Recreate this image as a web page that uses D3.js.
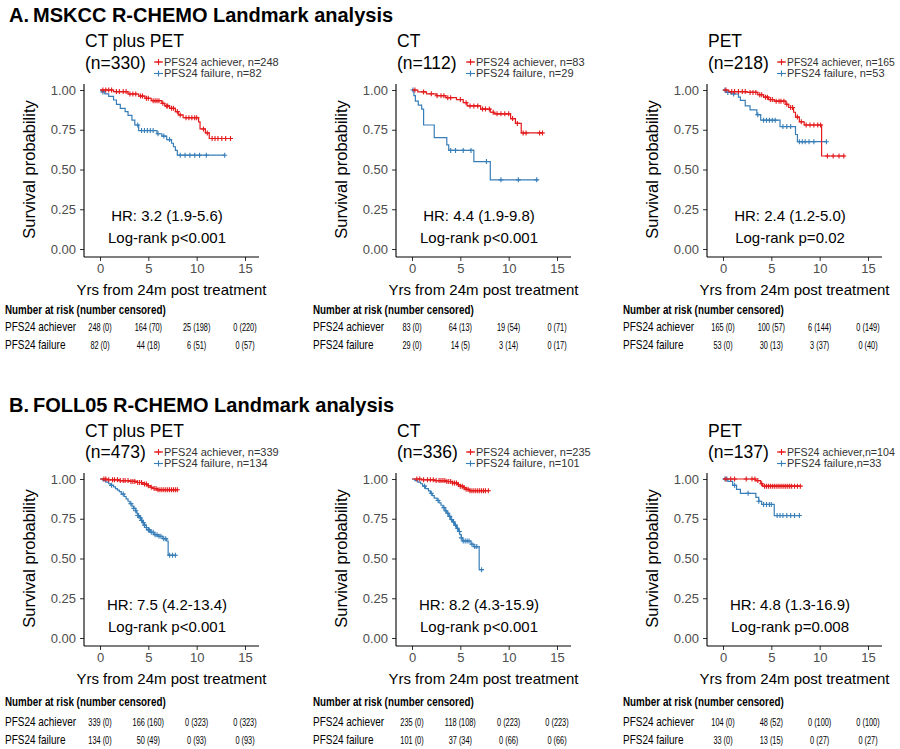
<!DOCTYPE html>
<html><head><meta charset="utf-8">
<script src="https://cdn.jsdelivr.net/npm/d3@7"></script>
<style>body{margin:0;background:#fff;} svg{display:block;font-family:"Liberation Sans",Arial,sans-serif;}</style>
</head><body><svg id="c" width="900" height="749"></svg>
<script>
// ---------------- DATA ----------------
const sectionTitles = ["A.\u2009MSKCC R-CHEMO Landmark analysis", "B.\u2009FOLL05 R-CHEMO Landmark analysis"];
const panelTitles = ["CT plus PET", "CT", "PET", "CT plus PET", "CT", "PET"];
const panelN = ["(n=330)", "(n=112)", "(n=218)", "(n=473)", "(n=336)", "(n=137)"];
const legendAchiever = ["PFS24 achiever, n=248", "PFS24 achiever, n=83", "PFS24 achiever, n=165", "PFS24 achiever, n=339", "PFS24 achiever, n=235", "PFS24 achiever,n=104"];
const legendFailure = ["PFS24 failure, n=82", "PFS24 failure, n=29", "PFS24 failure, n=53", "PFS24 failure, n=134", "PFS24 failure, n=101", "PFS24 failure,n=33"];
const hrText = ["HR: 3.2 (1.9-5.6)", "HR: 4.4 (1.9-9.8)", "HR: 2.4 (1.2-5.0)", "HR: 7.5 (4.2-13.4)", "HR: 8.2 (4.3-15.9)", "HR: 4.8 (1.3-16.9)"];
const pText = ["Log-rank p<0.001", "Log-rank p<0.001", "Log-rank p=0.02", "Log-rank p<0.001", "Log-rank p<0.001", "Log-rank p=0.008"];
const xTicks = [0, 5, 10, 15];
const yTicks = [0, 0.25, 0.5, 0.75, 1];
const xTitle = "Yrs from 24m post treatment";
const yTitle = "Survival probability";
const riskHeader = "Number at risk (number censored)";
const riskRowLabels = ["PFS24 achiever", "PFS24 failure"];
const riskAchiever = [
  ["248 (0)", "164 (70)", "25 (198)", "0 (220)"],
  ["83 (0)", "64 (13)", "19 (54)", "0 (71)"],
  ["165 (0)", "100 (57)", "6 (144)", "0 (149)"],
  ["339 (0)", "166 (160)", "0 (323)", "0 (323)"],
  ["235 (0)", "118 (108)", "0 (223)", "0 (223)"],
  ["104 (0)", "48 (52)", "0 (100)", "0 (100)"]
];
const riskFailure = [
  ["82 (0)", "44 (18)", "6 (51)", "0 (57)"],
  ["29 (0)", "14 (5)", "3 (14)", "0 (17)"],
  ["53 (0)", "30 (13)", "3 (37)", "0 (40)"],
  ["134 (0)", "50 (49)", "0 (93)", "0 (93)"],
  ["101 (0)", "37 (34)", "0 (66)", "0 (66)"],
  ["33 (0)", "13 (15)", "0 (27)", "0 (27)"]
];

// Kaplan-Meier steps [time, survival]; censor times
const mskCtPetAch = [[0,1],[1.4,0.99],[2.9,0.975],[4.0,0.962],[4.65,0.948],[5.3,0.933],[6.4,0.916],[6.7,0.90],[7.2,0.885],[7.8,0.864],[8.1,0.843],[8.6,0.826],[10.2,0.80],[10.35,0.755],[10.9,0.73],[11.3,0.695],[13.6,0.695]];
const mskCtPetAchCens = [0.3,0.6,0.9,1.2,1.7,2.0,2.4,2.7,3.1,3.4,3.7,4.2,4.4,4.8,5.0,5.5,5.7,5.9,6.1,6.5,6.9,7.0,7.4,7.6,8.0,8.3,8.9,9.2,9.5,9.8,10.0,10.7,11.1,11.6,11.9,12.2,12.6,13.0,13.5];
const mskCtPetFail = [[0,1],[0.2,0.988],[0.5,0.976],[0.9,0.96],[1.4,0.937],[1.7,0.91],[2.1,0.885],[2.6,0.864],[2.9,0.84],[3.3,0.81],[3.6,0.78],[4.0,0.745],[5.9,0.725],[6.4,0.71],[6.9,0.688],[7.4,0.665],[7.6,0.643],[7.8,0.62],[8.0,0.59],[12.9,0.59]];
const mskCtPetFailCens = [0.3,3.9,4.3,4.6,4.9,5.2,5.5,6.0,6.6,7.2,8.3,8.8,9.3,9.8,10.3,11.0,12.9];

const mskCtAch = [[0,1],[0.6,0.988],[1.5,0.976],[2.5,0.964],[3.5,0.952],[4.6,0.94],[5.3,0.92],[5.7,0.90],[7.1,0.88],[8.1,0.86],[8.5,0.85],[10.2,0.82],[10.7,0.79],[11.3,0.73],[13.6,0.73]];
const mskCtAchCens = [0.3,1.2,2.0,2.6,3.0,3.3,3.7,4.0,5.0,5.6,6.0,6.4,6.8,7.3,7.6,8.0,8.4,8.8,9.2,9.6,10.0,10.4,10.9,11.5,11.8,13.2,13.5];
const mskCtFail = [[0,1],[0.2,0.965],[0.35,0.93],[0.65,0.905],[1.0,0.88],[1.2,0.78],[2.3,0.70],[3.6,0.655],[3.8,0.62],[6.4,0.55],[8.1,0.435],[13.0,0.435]];
const mskCtFailCens = [0.1,4.0,4.5,5.3,6.1,7.7,9.2,11.0,12.9];

const mskPetAch = [[0,1],[0.6,0.99],[2.5,0.985],[3.6,0.97],[4.2,0.955],[4.7,0.94],[5.3,0.93],[6.5,0.91],[6.8,0.89],[7.3,0.86],[7.5,0.83],[7.9,0.80],[8.4,0.78],[10.2,0.585],[12.6,0.585]];
const mskPetAchCens = [0.3,0.9,1.2,1.6,2.0,2.3,2.8,3.1,3.4,3.8,4.0,4.4,4.6,4.9,5.1,5.5,5.8,6.0,6.3,6.6,7.0,7.2,7.7,8.1,8.6,9.0,9.4,9.8,10.1,10.8,11.4,12.0,12.5];
const mskPetFail = [[0,1],[0.3,0.985],[0.8,0.975],[1.6,0.955],[1.8,0.935],[2.3,0.90],[2.8,0.875],[3.5,0.845],[3.9,0.81],[5.9,0.77],[7.5,0.72],[7.7,0.675],[10.7,0.675]];
const mskPetFailCens = [0.2,0.5,1.1,3.6,4.2,4.5,4.8,5.1,5.4,6.2,6.6,7.0,7.9,8.2,8.5,8.9,9.4,10.7];

const follCtPetAch = [[0,1],[0.7,0.995],[2.0,0.99],[3.0,0.985],[3.8,0.978],[4.4,0.968],[4.9,0.958],[5.2,0.948],[5.5,0.94],[5.9,0.932],[8.1,0.932]];
const follCtPetAchCens = [0.4,0.6,0.9,1.3,1.5,1.8,2.1,2.4,2.6,2.9,3.2,3.4,3.6,3.9,4.1,4.3,4.6,4.8,5.0,5.3,5.6,5.8,6.0,6.2,6.4,6.6,6.8,7.0,7.2,7.4,7.6,7.8,8.0];
const follCtPetFail = [[0,1],[0.3,0.99],[0.6,0.98],[0.9,0.97],[1.1,0.96],[1.4,0.95],[1.6,0.94],[1.8,0.93],[2.0,0.92],[2.2,0.905],[2.5,0.89],[2.7,0.875],[2.9,0.86],[3.1,0.845],[3.3,0.83],[3.5,0.815],[3.7,0.80],[3.8,0.785],[3.9,0.77],[4.1,0.755],[4.3,0.74],[4.4,0.725],[4.6,0.71],[4.8,0.695],[5.0,0.68],[5.2,0.665],[5.6,0.65],[6.0,0.64],[6.5,0.625],[6.9,0.61],[7.05,0.52],[7.9,0.52]];
const follCtPetFailCens = [1.2,2.4,3.2,3.5,3.7,3.9,4.0,4.2,4.3,4.5,4.6,4.8,5.0,5.1,5.3,5.5,5.7,5.9,6.1,6.3,6.6,6.8,7.2,7.5,7.8];

const follCtAch = [[0,1],[1.0,0.995],[2.3,0.99],[3.6,0.984],[4.2,0.975],[4.7,0.965],[5.0,0.955],[5.3,0.945],[5.6,0.935],[5.9,0.926],[8.0,0.926]];
const follCtAchCens = [0.5,0.8,1.2,1.6,1.9,2.2,2.5,2.8,3.0,3.2,3.4,3.6,3.8,4.0,4.2,4.4,4.6,4.8,5.0,5.2,5.4,5.6,5.8,6.0,6.2,6.4,6.6,6.8,7.0,7.2,7.4,7.6,7.9];
const follCtFail = [[0,1],[0.3,0.99],[0.6,0.98],[0.9,0.97],[1.1,0.955],[1.4,0.94],[1.7,0.925],[1.9,0.91],[2.1,0.895],[2.3,0.88],[2.6,0.865],[2.8,0.85],[3.0,0.835],[3.2,0.82],[3.4,0.80],[3.6,0.785],[3.8,0.765],[4.0,0.745],[4.2,0.73],[4.4,0.71],[4.6,0.69],[4.8,0.67],[4.95,0.65],[5.1,0.63],[5.2,0.61],[6.1,0.59],[6.4,0.575],[6.95,0.43],[7.3,0.43]];
const follCtFailCens = [1.3,2.0,2.7,3.3,3.5,3.7,3.9,4.1,4.3,4.5,4.7,4.9,5.1,5.3,5.5,5.7,5.9,6.2,6.5,6.7,7.2];

const follPetAch = [[0,1],[3.4,0.99],[3.9,0.97],[4.1,0.955],[8.0,0.955]];
const follPetAchCens = [0.3,0.8,1.2,2.4,3.0,3.3,3.6,4.0,4.3,4.5,4.7,4.9,5.1,5.3,5.5,5.7,5.9,6.1,6.3,6.5,6.7,6.9,7.1,7.4,7.7,8.0];
const follPetFail = [[0,1],[0.5,0.985],[1.0,0.96],[1.4,0.935],[1.8,0.91],[3.4,0.885],[3.7,0.86],[4.0,0.84],[5.3,0.77],[7.9,0.77]];
const follPetFailCens = [0.2,0.4,1.2,2.6,3.7,4.2,4.5,4.8,5.0,5.6,5.9,6.2,6.6,7.0,7.4,7.9];

// ---------------- LAYOUT ----------------
const RED = "#e41a1c", BLUE = "#377eb8";
const colAxisX = [84, 396, 707];
const colX0 = [100, 412, 723];
const rowY1 = [90, 479];
const rowY0 = [249, 638];
const sectionY = [22, 412];
const tableHeaderY = [314, 706];
const tableRowY = [[331, 349], [726, 744]];
const tableLeft = [5, 313, 623];

const panels = [
  {ach: mskCtPetAch, achC: mskCtPetAchCens, fail: mskCtPetFail, failC: mskCtPetFailCens},
  {ach: mskCtAch, achC: mskCtAchCens, fail: mskCtFail, failC: mskCtFailCens},
  {ach: mskPetAch, achC: mskPetAchCens, fail: mskPetFail, failC: mskPetFailCens},
  {ach: follCtPetAch, achC: follCtPetAchCens, fail: follCtPetFail, failC: follCtPetFailCens},
  {ach: follCtAch, achC: follCtAchCens, fail: follCtFail, failC: follCtFailCens},
  {ach: follPetAch, achC: follPetAchCens, fail: follPetFail, failC: follPetFailCens}
];

const svg = d3.select("#c");

sectionTitles.forEach((t, r) => {
  svg.append("text").attr("x", 9).attr("y", sectionY[r])
    .attr("font-size", 20).attr("font-weight", "bold").attr("fill", "#000").text(t);
});

function survAt(steps, t) {
  let s = steps[0][1];
  for (const [tt, ss] of steps) { if (tt <= t) s = ss; else break; }
  return s;
}

function plusPath(cx, cy, h) {
  return `M${cx - h},${cy}H${cx + h}M${cx},${cy - h}V${cy + h}`;
}

function condensedText(g, x, y, txt, size, sx, anchor, weight, fill) {
  g.append("text")
    .attr("transform", `translate(${x},${y}) scale(${sx},1)`)
    .attr("text-anchor", anchor).attr("font-size", size)
    .attr("font-weight", weight).attr("fill", fill).text(txt);
}

panels.forEach((p, i) => {
  const col = i % 3, row = Math.floor(i / 3);
  const ax = colAxisX[col], x0 = colX0[col];
  const x = d3.scaleLinear().domain([0, 15]).range([x0, x0 + 145]);
  const y = d3.scaleLinear().domain([0, 1]).range([rowY0[row], rowY1[row]]);
  const axisY = rowY0[row] + 8;
  const g = svg.append("g");

  // panel titles
  g.append("text").attr("x", ax + 1).attr("y", row === 0 ? 47 : 437)
    .attr("font-size", 17.5).attr("fill", "#000").text(panelTitles[i]);
  g.append("text").attr("x", ax + 1).attr("y", row === 0 ? 69 : 458)
    .attr("font-size", 17.5).attr("fill", "#000").text(panelN[i]);

  // legend
  const legY = row === 0 ? [62, 73.5] : [452, 463.5];
  [[RED, legendAchiever[i]], [BLUE, legendFailure[i]]].forEach(([c, lab], k) => {
    const lx = ax + 70, ly = legY[k];
    g.append("line").attr("x1", lx).attr("x2", lx + 9).attr("y1", ly).attr("y2", ly)
      .attr("stroke", c).attr("stroke-width", 1.1);
    g.append("path").attr("d", plusPath(lx + 4.5, ly, 3)).attr("stroke", c).attr("stroke-width", 1.1);
    const t = g.append("text").attr("x", lx + 10).attr("y", ly).attr("dy", "0.35em")
      .attr("font-size", 11).attr("fill", "#333").text(lab);
    const len = t.node().getComputedTextLength();
    if (lx + 10 + len > 895) {
      t.attr("font-size", 11 * (895 - lx - 10) / len);
    }
  });

  // axes
  const xa = g.append("g").attr("transform", `translate(0,${axisY})`)
    .call(d3.axisBottom(x).tickValues(xTicks).tickSize(4).tickSizeOuter(0).tickPadding(3));
  xa.select(".domain").remove();
  const ya = g.append("g").attr("transform", `translate(${ax},0)`)
    .call(d3.axisLeft(y).tickValues(yTicks).tickFormat(d3.format(".2f")).tickSize(4).tickSizeOuter(0).tickPadding(4));
  ya.select(".domain").remove();
  [xa, ya].forEach(a => {
    a.selectAll(".tick line").attr("stroke", "#333").attr("stroke-width", 1);
    a.selectAll(".tick text").attr("font-size", 13).attr("fill", "#4d4d4d")
      .attr("font-family", "'Liberation Sans', Arial, sans-serif");
  });
  g.append("line").attr("x1", ax).attr("x2", x0 + 159).attr("y1", axisY).attr("y2", axisY)
    .attr("stroke", "#000").attr("stroke-width", 1.1);
  g.append("line").attr("x1", ax).attr("x2", ax).attr("y1", rowY1[row] - 6).attr("y2", axisY)
    .attr("stroke", "#000").attr("stroke-width", 1.1);

  // axis titles
  g.append("text").attr("x", (ax + x0 + 159) / 2).attr("y", axisY + 38)
    .attr("text-anchor", "middle").attr("font-size", 15).attr("fill", "#000").text(xTitle);
  g.append("text").attr("transform", `translate(${ax - 55},${(rowY0[row] + rowY1[row]) / 2}) rotate(-90)`)
    .attr("dy", "0.35em").attr("text-anchor", "middle").attr("font-size", 16.5).attr("fill", "#000").text(yTitle);

  // curves
  const line = d3.line().x(d => x(d[0])).y(d => y(d[1])).curve(d3.curveStepAfter);
  [[p.fail, p.failC, BLUE], [p.ach, p.achC, RED]].forEach(([steps, cens, c]) => {
    g.append("path").attr("d", line(steps)).attr("fill", "none").attr("stroke", c).attr("stroke-width", 1.2);
    g.append("g").selectAll("path").data(cens).join("path")
      .attr("d", t => plusPath(x(t), y(survAt(steps, t)), 2.5))
      .attr("stroke", c).attr("stroke-width", 1.1);
  });

  // HR + p text
  g.append("text").attr("x", x0 + 67).attr("y", rowY0[row] - 28).attr("text-anchor", "middle")
    .attr("font-size", 15).attr("fill", "#000").text(hrText[i]);
  g.append("text").attr("x", x0 + 67).attr("y", rowY0[row] - 6).attr("text-anchor", "middle")
    .attr("font-size", 15).attr("fill", "#000").text(pText[i]);

  // risk table
  const tl = tableLeft[col];
  condensedText(g, tl, tableHeaderY[row], riskHeader, 12, 0.82, "start", "bold", "#000");
  [riskAchiever[i], riskFailure[i]].forEach((vals, k) => {
    const ry = tableRowY[row][k];
    condensedText(g, tl, ry, riskRowLabels[k], 12.5, 0.8, "start", "normal", "#000");
    vals.forEach((v, j) => condensedText(g, x(xTicks[j]), ry, v, 11.5, 0.64, "middle", "normal", "#000"));
  });
});
</script>
</body></html>
